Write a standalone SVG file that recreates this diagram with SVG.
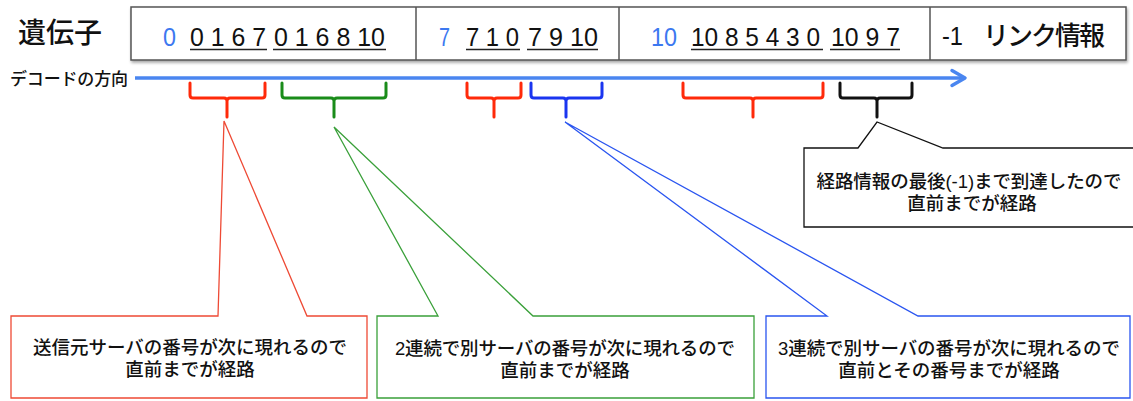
<svg xmlns="http://www.w3.org/2000/svg" width="1133" height="401" viewBox="0 0 1133 401">
<defs>
<style>
.jp{font-family:"Liberation Sans","Noto Sans CJK JP",sans-serif;fill:#111;font-weight:500}
.num{font-family:"Liberation Sans","Noto Sans CJK JP",sans-serif;font-size:26px;fill:#111}
.bl{fill:#3c78f0}
.ul{stroke:#222;stroke-width:1.3}
.brace{fill:none;stroke-width:3;stroke-linecap:round;stroke-linejoin:round}
.call{fill:#fff;stroke-width:1.3}
.ct{font-family:"Liberation Sans","Noto Sans CJK JP",sans-serif;font-size:18.5px;fill:#111;text-anchor:middle;font-weight:500}
</style>
<filter id="sh" x="-5%" y="-20%" width="110%" height="150%">
<feDropShadow dx="1" dy="2" stdDeviation="1.5" flood-color="#000" flood-opacity="0.35"/>
</filter>
</defs>
<rect width="1133" height="401" fill="#fff"/>

<g id="title">
<text class="jp" x="18" y="43" font-size="28" textLength="84">遺伝子</text>
<text class="jp" x="10" y="85" font-size="17" textLength="118">デコードの方向</text>
</g>

<g id="gene">
<rect x="131" y="7" width="995" height="53" fill="#fff" stroke="#555" stroke-width="1.5" filter="url(#sh)"/>
<line x1="416" y1="7" x2="416" y2="60" stroke="#555" stroke-width="1.5"/>
<line x1="619" y1="7" x2="619" y2="60" stroke="#555" stroke-width="1.5"/>
<line x1="930" y1="7" x2="930" y2="60" stroke="#555" stroke-width="1.5"/>
<text class="num bl" x="163" y="46" textLength="13" lengthAdjust="spacingAndGlyphs">0</text>
<text class="num" x="190" y="46" textLength="76" lengthAdjust="spacingAndGlyphs">0 1 6 7</text>
<text class="num" x="274" y="46" textLength="111" lengthAdjust="spacingAndGlyphs">0 1 6 8 10</text>
<line class="ul" x1="190" y1="49.5" x2="267" y2="49.5"/>
<line class="ul" x1="273" y1="49.5" x2="386" y2="49.5"/>
<text class="num bl" x="439" y="46" textLength="11" lengthAdjust="spacingAndGlyphs">7</text>
<text class="num" x="466" y="46" textLength="53" lengthAdjust="spacingAndGlyphs">7 1 0</text>
<text class="num" x="528" y="46" textLength="70" lengthAdjust="spacingAndGlyphs">7 9 10</text>
<line class="ul" x1="466" y1="49.5" x2="520" y2="49.5"/>
<line class="ul" x1="527" y1="49.5" x2="598" y2="49.5"/>
<text class="num bl" x="651" y="46" textLength="26" lengthAdjust="spacingAndGlyphs">10</text>
<text class="num" x="691" y="46" textLength="129" lengthAdjust="spacingAndGlyphs">10 8 5 4 3 0</text>
<text class="num" x="831" y="46" textLength="69" lengthAdjust="spacingAndGlyphs">10 9 7</text>
<line class="ul" x1="691" y1="49.5" x2="823" y2="49.5"/>
<line class="ul" x1="830" y1="49.5" x2="900" y2="49.5"/>
<text class="num" x="942" y="45" font-size="26" textLength="21" lengthAdjust="spacingAndGlyphs">-1</text>
<text class="jp" x="983" y="45" font-size="26" textLength="122">リンク情報</text>
</g>

<g id="connectors">
<line x1="135" y1="78" x2="963" y2="78" stroke="#4a86f0" stroke-width="3.5"/>
<polyline points="952,70.5 965,78 952,85.5" fill="none" stroke="#4a86f0" stroke-width="3.5" stroke-linecap="round" stroke-linejoin="round"/>
<path class="brace" stroke="#ff2a0a" d="M190,83 V95 Q190,98 193,98 H224 Q227,98 227,101 V117 M227,101 Q227,98 230,98 H262 Q265,98 265,95 V83"/>
<path class="brace" stroke="#1a8c1a" d="M282,83 V95 Q282,98 285,98 H331 Q334,98 334,101 V117 M334,101 Q334,98 337,98 H383 Q386,98 386,95 V83"/>
<path class="brace" stroke="#ff2a0a" d="M467,83 V95 Q467,98 470,98 H491 Q494,98 494,101 V117 M494,101 Q494,98 497,98 H518 Q521,98 521,95 V83"/>
<path class="brace" stroke="#1a35f0" d="M531,83 V95 Q531,98 534,98 H563 Q566,98 566,101 V117 M566,101 Q566,98 569,98 H599 Q602,98 602,95 V83"/>
<path class="brace" stroke="#ff2a0a" d="M683,83 V95 Q683,98 686,98 H750 Q753,98 753,101 V117 M753,101 Q753,98 756,98 H820 Q823,98 823,95 V83"/>
<path class="brace" stroke="#111" d="M840,83 V95 Q840,98 843,98 H874 Q877,98 877,101 V117 M877,101 Q877,98 880,98 H909 Q912,98 912,95 V83"/>
</g>

<g id="callout-end">
<path class="call" stroke="#111" d="M804,148 H858 L877,122 L943,148 H1140 V227 H804 Z"/>
<text class="ct" x="969" y="188" textLength="305">経路情報の最後(-1)まで到達したので</text>
<text class="ct" x="972" y="210">直前までが経路</text>
</g>

<g id="callout-red">
<path class="call" stroke="#ee4a35" d="M11,316 H218 L224,121 L307,316 H367 V398 H11 Z"/>
<text class="ct" x="190" y="354" textLength="314">送信元サーバの番号が次に現れるので</text>
<text class="ct" x="190" y="376">直前までが経路</text>
</g>

<g id="callout-green">
<path class="call" stroke="#3aa03a" d="M377,316 H438 L334,127 L533,316 H754 V398 H377 Z"/>
<text class="ct" x="565" y="355" textLength="340">2連続で別サーバの番号が次に現れるので</text>
<text class="ct" x="565" y="377">直前までが経路</text>
</g>

<g id="callout-blue">
<path class="call" stroke="#2a55f0" d="M766,316 H827 L565,122 L918,316 H1130 V398 H766 Z"/>
<text class="ct" x="949" y="355" textLength="342">3連続で別サーバの番号が次に現れるので</text>
<text class="ct" x="949" y="377">直前とその番号までが経路</text>
</g>
</svg>
